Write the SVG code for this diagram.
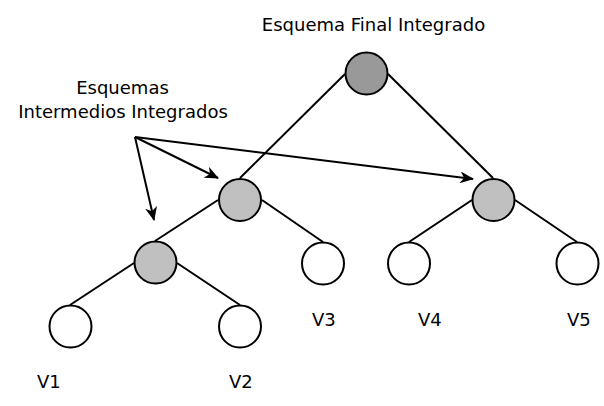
<svg xmlns="http://www.w3.org/2000/svg" width="604" height="406" viewBox="0 0 604 406">
<style>
.t{font-family:"DejaVu Sans",Verdana,sans-serif;font-size:18px;fill:#000}
.e{stroke:#000;stroke-width:2;fill:none}
.n{stroke:#000;stroke-width:2}
.root{fill:#999}
.mid{fill:#c0c0c0}
.leaf{fill:#fff}
</style>
<defs>
<marker id="ah" viewBox="0 0 14 12" refX="13" refY="6" markerWidth="14" markerHeight="12" markerUnits="userSpaceOnUse" orient="auto">
<path d="M0,0 L14,6 L0,12 L4,6 Z" fill="#000"/>
</marker>
</defs>
<rect width="604" height="406" fill="#fff"/>
<g id="connectors">
<line class="e" x1="345" y1="74" x2="240" y2="178"/>
<line class="e" x1="388" y1="74" x2="493" y2="178"/>
<line class="e" x1="218" y1="200" x2="155" y2="241"/>
<line class="e" x1="262" y1="200" x2="323" y2="242"/>
<line class="e" x1="134" y1="263" x2="70" y2="305"/>
<line class="e" x1="177" y1="263" x2="240" y2="305"/>
<line class="e" x1="472" y1="200" x2="409" y2="242"/>
<line class="e" x1="515" y1="200" x2="577" y2="242"/>
<line class="e" x1="135" y1="137" x2="154" y2="220" marker-end="url(#ah)"/>
<line class="e" x1="135" y1="137" x2="218" y2="178" marker-end="url(#ah)"/>
<line class="e" x1="135" y1="137" x2="473" y2="179" marker-end="url(#ah)"/>
</g>
<g id="root"><circle class="n root" cx="366.5" cy="73.5" r="21"/></g>
<g id="intA"><circle class="n mid" cx="240" cy="200" r="21"/></g>
<g id="intB"><circle class="n mid" cx="155.5" cy="262.5" r="21"/></g>
<g id="intC"><circle class="n mid" cx="493.5" cy="200" r="21"/></g>
<g id="v1"><circle class="n leaf" cx="70.5" cy="326.5" r="21"/></g>
<g id="v2"><circle class="n leaf" cx="240" cy="326.5" r="21"/></g>
<g id="v3"><circle class="n leaf" cx="323" cy="263.5" r="21"/></g>
<g id="v4"><circle class="n leaf" cx="409" cy="263.5" r="21"/></g>
<g id="v5"><circle class="n leaf" cx="577.5" cy="263.5" r="21"/></g>
<g id="labels">
<text class="t" x="373.5" y="31" text-anchor="middle">Esquema Final Integrado</text>
<text class="t" x="122.5" y="94" text-anchor="middle">Esquemas</text>
<text class="t" x="123" y="118" text-anchor="middle">Intermedios Integrados</text>
<text class="t" x="37" y="388">V1</text>
<text class="t" x="229" y="388">V2</text>
<text class="t" x="312" y="326">V3</text>
<text class="t" x="418" y="326">V4</text>
<text class="t" x="567" y="326">V5</text>
</g>
</svg>
